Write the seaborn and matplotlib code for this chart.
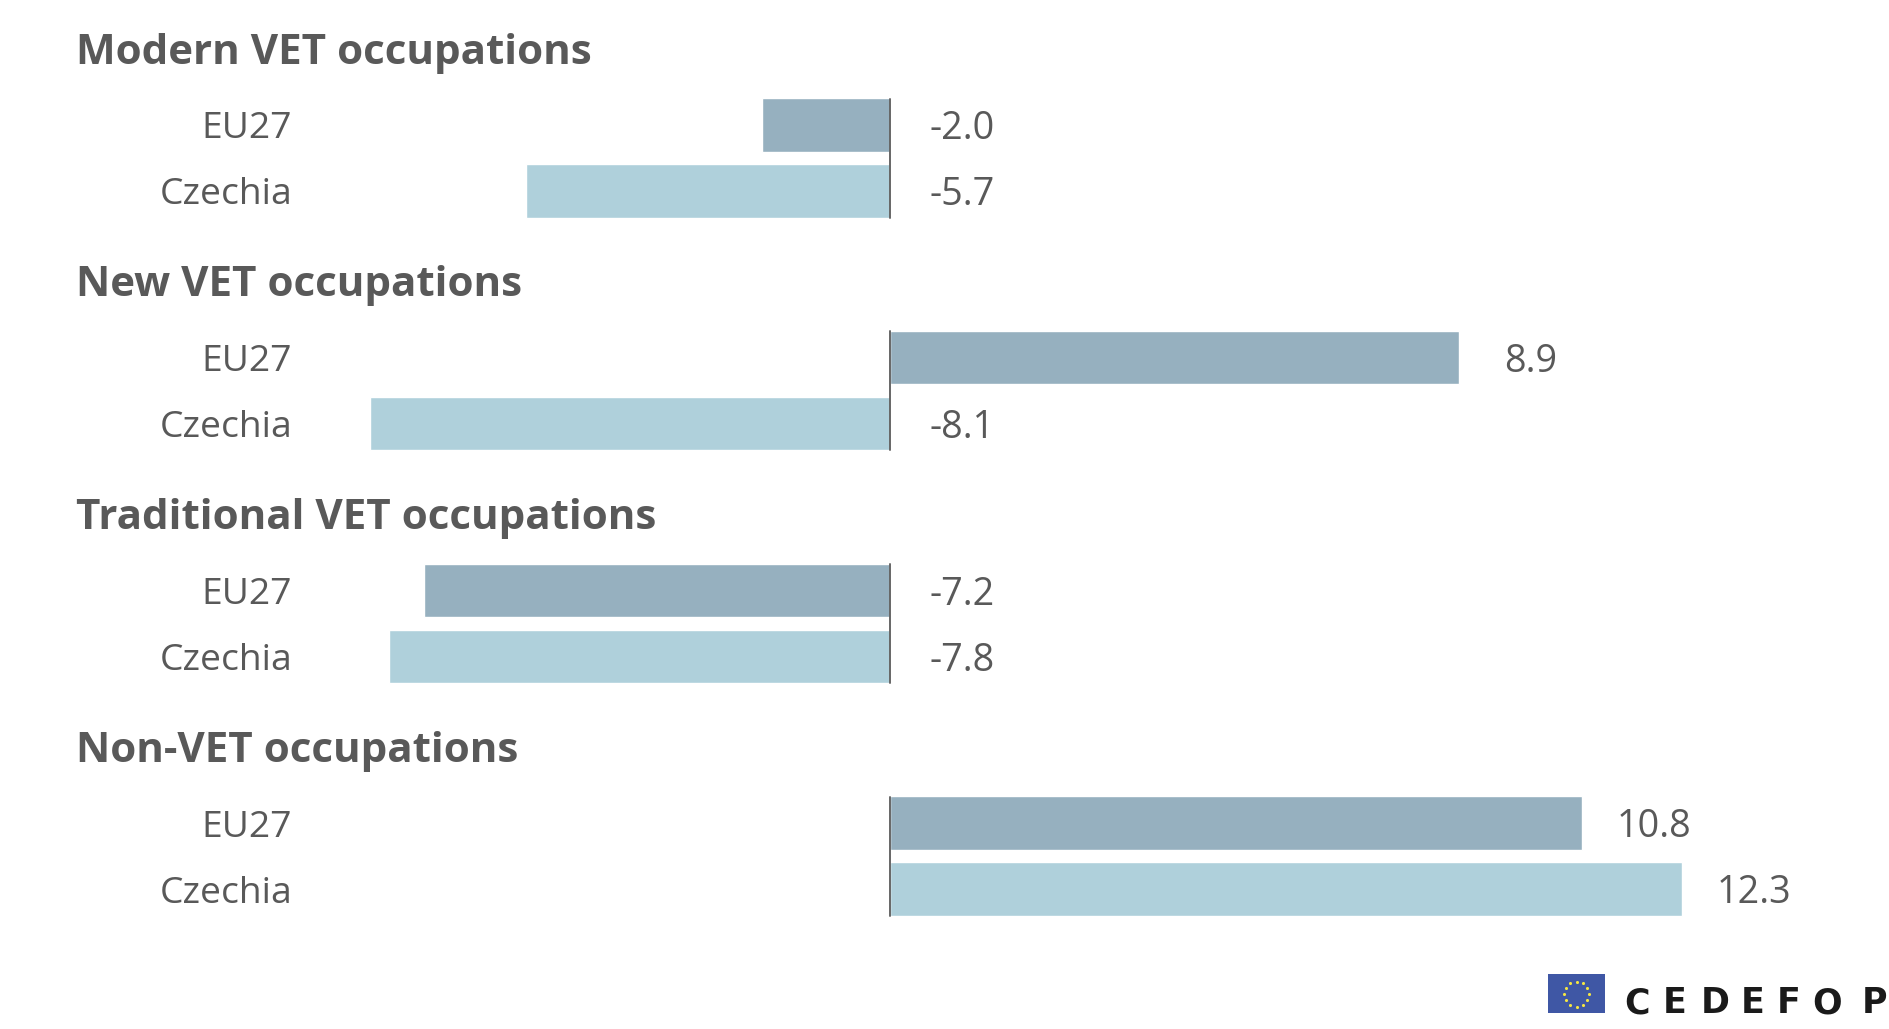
import numpy as np
import matplotlib.pyplot as plt
import pandas as pd
import seaborn as sns
from matplotlib.patches import Rectangle

groups = ["Modern VET occupations", "New VET occupations",
          "Traditional VET occupations", "Non-VET occupations"]
geo = ["EU27", "Czechia"]
# labels round these to one decimal
eu27 = [-1.99, 8.86, -7.25, 10.78]
czechia = [-5.67, -8.09, -7.80, 12.34]

W, H = 1890, 1029
GREY = "#595959"
colors = {"EU27": "#96B0BF", "Czechia": "#AFD0DB"}

sns.set_theme(style="white")
plt.rcParams["font.family"] = ["Open Sans", "DejaVu Sans"]

fig = plt.figure(figsize=(W / 100, H / 100), dpi=100, facecolor="white")

# full figure overlay in pixels, for the logo
bg = fig.add_axes([0, 0, 1, 1])
bg.set_xlim(0, W)
bg.set_ylim(H, 0)
bg.axis("off")

px_per_unit = 64.2
zero_px = 889.7
left_px = 300

for i, name in enumerate(groups):
    df = pd.DataFrame({"geo": geo, "value": [eu27[i], czechia[i]]})
    top = 92 + i * 232.67
    ax = fig.add_axes([left_px / W, 1 - (top + 132) / H, (W - left_px) / W, 132 / H])
    ax.patch.set_alpha(0)
    sns.barplot(data=df, x="value", y="geo", hue="geo", palette=colors,
                order=geo, width=0.81, saturation=1, legend=False, ax=ax)
    ax.set_xlim((left_px - zero_px) / px_per_unit, (W - zero_px) / px_per_unit)
    ax.set_xlabel("")
    ax.set_ylabel("")
    ax.set_xticks([])
    ax.tick_params(axis="y", length=0, pad=5.5, labelsize=26.8, labelcolor=GREY)
    sns.despine(ax=ax, left=True, bottom=True)
    ax.axvline(0, ymin=6.5 / 132, ymax=1 - 6.5 / 132, color="#666666", lw=1.4, zorder=5)

    for j, v in enumerate(df["value"]):
        ax.annotate(f"{v:.1f}", xy=(max(v, 0), j), xytext=(52, -3.2),
                    textcoords="offset points", ha="center", va="center",
                    fontsize=27.2, color=GREY)

    fig.text(76 / W, 1 - (53 + i * 232.67) / H, name, fontsize=30.3,
             fontweight="bold", color=GREY, va="center", ha="left")

# logo: flag and wordmark
bg.add_patch(Rectangle((1548, 974), 57, 39, color="#3F57A5", lw=0))
angles = np.deg2rad(np.arange(0, 360, 30))
bg.scatter(1576.5 + 12.5 * np.cos(angles), 994 + 12.5 * np.sin(angles),
           s=5, color="#F5E642", linewidths=0)
for letter, x in zip("CEDEFOP", [1624, 1663, 1701, 1741, 1777, 1812, 1862]):
    bg.text(x, 1013, letter, fontsize=25, family="DejaVu Sans", fontweight="bold",
            color="#1A1A1A", ha="left", va="baseline")

fig.savefig("out.png", dpi=100)
